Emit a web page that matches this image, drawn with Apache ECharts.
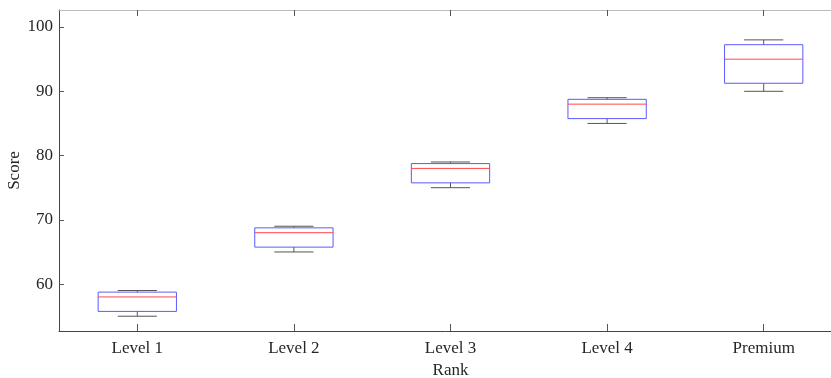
<!DOCTYPE html>
<html>
<head>
<meta charset="utf-8">
<script src="https://cdn.jsdelivr.net/npm/echarts@6/dist/echarts.min.js"></script>
<style>
  html, body { margin: 0; padding: 0; background: #fff; }
  #chart { width: 831px; height: 378px; }
</style>
</head>
<body>
<div id="chart"></div>
<script>
// box plot values
const ranks = ['Level 1', 'Level 2', 'Level 3', 'Level 4', 'Premium'];
const mins    = [55, 65, 75, 85, 90];
const q1s     = [55.75, 65.75, 75.75, 85.75, 91.25];
const medians = [58, 68, 78, 88, 95];
const q3s     = [58.75, 68.75, 78.75, 88.75, 97.25];
const maxs    = [59, 69, 79, 89, 98];
const yTicks  = [60, 70, 80, 90, 100];

const boxData = ranks.map((r, i) => [i, mins[i], q1s[i], medians[i], q3s[i], maxs[i]]);

const font = 'Liberation Serif';
const textColor = '#262626';

function renderBox(params, api) {
    const idx = api.value(0);
    const band = api.size([1, 0])[0];
    const boxW = band * 0.5;
    const capW = band * 0.25;
    const pMin = api.coord([idx, api.value(1)]);
    const pQ1 = api.coord([idx, api.value(2)]);
    const pMed = api.coord([idx, api.value(3)]);
    const pQ3 = api.coord([idx, api.value(4)]);
    const pMax = api.coord([idx, api.value(5)]);
    const cx = pMed[0];
    const whisker = { stroke: '#555', lineWidth: 1 };
    return {
        type: 'group',
        children: [
            { type: 'line', shape: { x1: cx, y1: pMax[1], x2: cx, y2: pQ3[1] }, style: whisker },
            { type: 'line', shape: { x1: cx, y1: pQ1[1], x2: cx, y2: pMin[1] }, style: whisker },
            { type: 'line', shape: { x1: cx - capW / 2, y1: pMax[1], x2: cx + capW / 2, y2: pMax[1] }, style: whisker },
            { type: 'line', shape: { x1: cx - capW / 2, y1: pMin[1], x2: cx + capW / 2, y2: pMin[1] }, style: whisker },
            { type: 'rect', shape: { x: cx - boxW / 2, y: pQ3[1], width: boxW, height: pQ1[1] - pQ3[1] },
              style: { fill: 'none', stroke: '#5a5aff', lineWidth: 1 } },
            { type: 'line', shape: { x1: cx - boxW / 2, y1: pMed[1], x2: cx + boxW / 2, y2: pMed[1] },
              style: { stroke: '#ff4a4a', lineWidth: 1 } }
        ]
    };
}

const chart = echarts.init(document.getElementById('chart'), null, { renderer: 'canvas' });

chart.setOption({
    animation: false,
    grid: { left: 59, top: 10, width: 783, height: 321, containLabel: false, outerBoundsMode: 'none' },
    xAxis: [
        {
            type: 'category',
            data: ranks,
            position: 'bottom',
            name: 'Rank',
            nameLocation: 'middle',
            nameGap: 27,
            nameTextStyle: { fontFamily: font, fontSize: 17, color: textColor },
            axisLine: { lineStyle: { color: '#444', width: 1 } },
            axisTick: { show: true, inside: true, alignWithLabel: true, length: 7, lineStyle: { color: '#555' } },
            axisLabel: { fontFamily: font, fontSize: 17, color: textColor, margin: 9 },
            splitLine: { show: false }
        },
        {
            type: 'category',
            data: ranks,
            position: 'top',
            axisLine: { lineStyle: { color: '#bbb', width: 1 } },
            axisTick: { show: true, inside: true, alignWithLabel: true, length: 6, lineStyle: { color: '#555' } },
            axisLabel: { show: false },
            splitLine: { show: false }
        }
    ],
    yAxis: {
        type: 'value',
        min: 52.7,
        max: 102.65,
        name: 'Score',
        nameLocation: 'middle',
        nameGap: 36,
        nameMoveOverlap: false,
        nameTextStyle: { fontFamily: font, fontSize: 17, color: textColor },
        axisLine: { show: true, lineStyle: { color: '#444', width: 1 } },
        axisTick: { show: true, inside: true, length: 5, customValues: yTicks, lineStyle: { color: '#555' } },
        axisLabel: { fontFamily: font, fontSize: 17, color: textColor, margin: 6, customValues: yTicks },
        splitLine: { show: false }
    },
    series: [{
        type: 'custom',
        renderItem: renderBox,
        encode: { x: 0, y: [1, 2, 3, 4, 5] },
        data: boxData
    }]
});
</script>
</body>
</html>
